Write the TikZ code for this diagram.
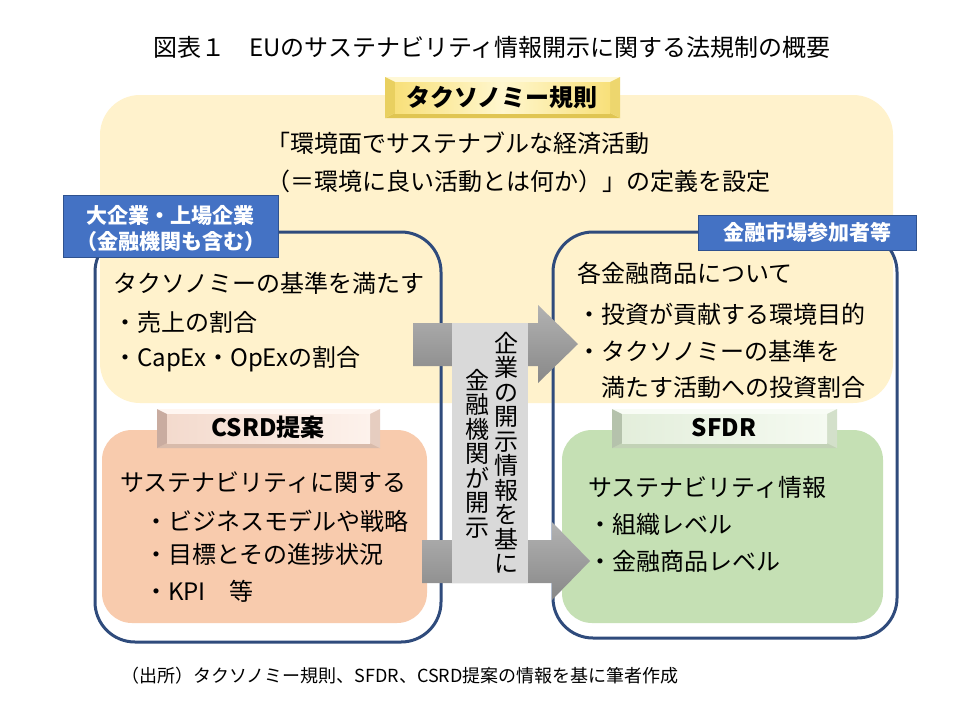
\documentclass[tikz,border=0pt]{standalone}
\usepackage{fontspec}
\setmainfont{Noto Sans CJK JP}
\definecolor{yellowbg}{HTML}{FFF2CC}
\definecolor{pinkbg}{HTML}{F8CBAD}
\definecolor{greenbg}{HTML}{C5E0B4}
\definecolor{navy}{HTML}{2F4B7C}
\definecolor{lblue}{HTML}{4472C4}
\definecolor{lbluedark}{HTML}{2F528F}
\definecolor{grbox}{HTML}{D9D9D9}
\definecolor{arrA}{HTML}{B2B2B2}
\definecolor{arrB}{HTML}{888888}
% taxonomy tab colours
\definecolor{taxL}{HTML}{E9D060}
\definecolor{taxT}{HTML}{FFF8D6}
\definecolor{taxR}{HTML}{EDD66E}
\definecolor{taxB}{HTML}{E0C552}
\definecolor{taxEdge}{HTML}{F8E07A}
\definecolor{taxMid}{HTML}{FFF7CF}
% csrd tab colours
\definecolor{csrL}{HTML}{C9ACA0}
\definecolor{csrT}{HTML}{FFF6F1}
\definecolor{csrR}{HTML}{E6CDC0}
\definecolor{csrB}{HTML}{D8BBAB}
\definecolor{csrF1}{HTML}{F3DACD}
\definecolor{csrF2}{HTML}{FDF2EC}
% sfdr tab colours
\definecolor{sfdL}{HTML}{B5C2AC}
\definecolor{sfdT}{HTML}{F8FCF5}
\definecolor{sfdR}{HTML}{D3E0CA}
\definecolor{sfdB}{HTML}{C2D2B6}
\definecolor{sfdF1}{HTML}{E3EEDB}
\definecolor{sfdF2}{HTML}{F5FAF1}
% #1 x1, #2 y1, #3 x2, #4 y2, #5 colour prefix, #6 face shading options
\newcommand{\beveltab}[6]{%
  \fill[#5T] (#1,#2) -- (#3,#2) -- (#3-10,#2+5) -- (#1+10,#2+5) -- cycle;
  \fill[#5B] (#1,#4) -- (#3,#4) -- (#3-10,#4-5) -- (#1+10,#4-5) -- cycle;
  \fill[#5L] (#1,#2) -- (#1+10,#2+5) -- (#1+10,#4-5) -- (#1,#4) -- cycle;
  \fill[#5R] (#3,#2) -- (#3-10,#2+5) -- (#3-10,#4-5) -- (#3,#4) -- cycle;
  \shade[#6] (#1+10,#2+5) rectangle (#3-10,#4-5);
}
\begin{document}
\begin{tikzpicture}[x=1pt,y=-1pt,
  body/.style={font=\fontsize{24}{24}\selectfont, inner sep=0pt, anchor=west, text height=21pt, text depth=3pt},
  vch/.style={font=\fontsize{24}{24}\selectfont, inner sep=0pt, anchor=center, text height=21pt, text depth=3pt},
  tabtext/.style={font=\fontsize{24}{24}\selectfont\bfseries, inner sep=0pt, anchor=center, text height=21pt, text depth=3pt},
  lbltext/.style={font=\fontsize{21}{26}\selectfont\bfseries, text=white, inner sep=0pt, anchor=center, align=center},
  bluebox/.style={draw=navy, line width=3pt, rounded corners=40pt},
  lblbox/.style={fill=lblue, draw=lbluedark, line width=1pt},
  grayarrow/.style={top color=arrA, bottom color=arrB}
]
\useasboundingbox (0,0) rectangle (960,720);
\fill[white] (0,0) rectangle (960,720);

% title
\node[font=\fontsize{24}{24}\selectfont, inner sep=0pt, text height=21pt, text depth=3pt] (title) at (492,47) {図表１　EUのサステナビリティ情報開示に関する法規制の概要};

% taxonomy background
\fill[yellowbg, rounded corners=40pt] (100,95) rectangle (893,403);

% big outline boxes
\draw[bluebox] (95,232) rectangle (441,642);
\draw[bluebox] (553,232) rectangle (897,638);

% coloured inner boxes
\fill[pinkbg, rounded corners=30pt] (102,430) rectangle (427,623);
\fill[greenbg, rounded corners=30pt] (562,430) rectangle (883,623);

% tabs
\beveltab{385}{77}{620}{118}{tax}{left color=taxEdge, right color=taxEdge, middle color=taxMid}
\node[tabtext] (taxlabel) at (502,97) {タクソノミー規則};
\beveltab{157}{409}{380}{448}{csr}{left color=csrF1, right color=csrF2}
\node[tabtext] (csrdlabel) at (268,427) {CSRD提案};
\beveltab{612}{409}{837}{448}{sfd}{left color=sfdF1, right color=sfdF2}
\node[tabtext] (sfdrlabel) at (724,427) {SFDR};

% blue labels
\draw[lblbox] (63,195) rectangle (278,257);
\node[lbltext] (lblA) at (170.5,229) {大企業・上場企業\\（金融機関も含む）};
\draw[lblbox] (698,215) rectangle (916,250);
\node[lbltext] (lblB) at (807,232) {金融市場参加者等};

% taxonomy text
\node[body] (t1) at (266,143) {「環境面でサステナブルな経済活動};
\node[body] (t2) at (266,181) {（＝環境に良い活動とは何か）」の定義を設定};

% left box text
\node[body] (l1) at (113,283) {タクソノミーの基準を満たす};
\node[body] (l2) at (113,322) {・売上の割合};
\node[body] (l3) at (113,357) {・CapEx・OpExの割合};

% right box text
\node[body] (r1) at (577,273) {各金融商品について};
\node[body] (r2) at (577,314) {・投資が貢献する環境目的};
\node[body] (r3) at (577,351) {・タクソノミーの基準を};
\node[body] (r4) at (577,387) {　満たす活動への投資割合};

% CSRD text
\node[body] (c1) at (120,482) {サステナビリティに関する};
\node[body] (c2) at (120,521) {　・ビジネスモデルや戦略};
\node[body] (c3) at (120,554) {　・目標とその進捗状況};
\node[body] (c4) at (120,591) {　・KPI　等};

% SFDR text
\node[body] (s1) at (588,487) {サステナビリティ情報};
\node[body] (s2) at (588,524) {・組織レベル};
\node[body] (s3) at (588,561) {・金融商品レベル};

% arrows
\shade[grayarrow] (413,323) -- (538,323) -- (538,305) -- (578,344) -- (538,383) -- (538,366) -- (413,366) -- cycle;
\shade[grayarrow] (422,540) -- (552,540) -- (552,522) -- (590,561) -- (552,600) -- (552,583) -- (422,583) -- cycle;

% vertical text box
\fill[grbox] (452,323) rectangle (528,583);
\foreach \c [count=\i] in {企,業,の,開,示,情,報,を,基,に}
  \node[vch] (vr\i) at (506,{343+24.5*(\i-1)}) {\c};
\foreach \c [count=\i] in {金,融,機,関,が,開,示}
  \node[vch] (vl\i) at (477,{380+24.5*(\i-1)}) {\c};

% footer
\node[font=\fontsize{18}{18}\selectfont, inner sep=0pt, text height=15pt, text depth=3pt] (footer) at (400,676) {（出所）タクソノミー規則、SFDR、CSRD提案の情報を基に筆者作成};
\end{tikzpicture}
\end{document}
